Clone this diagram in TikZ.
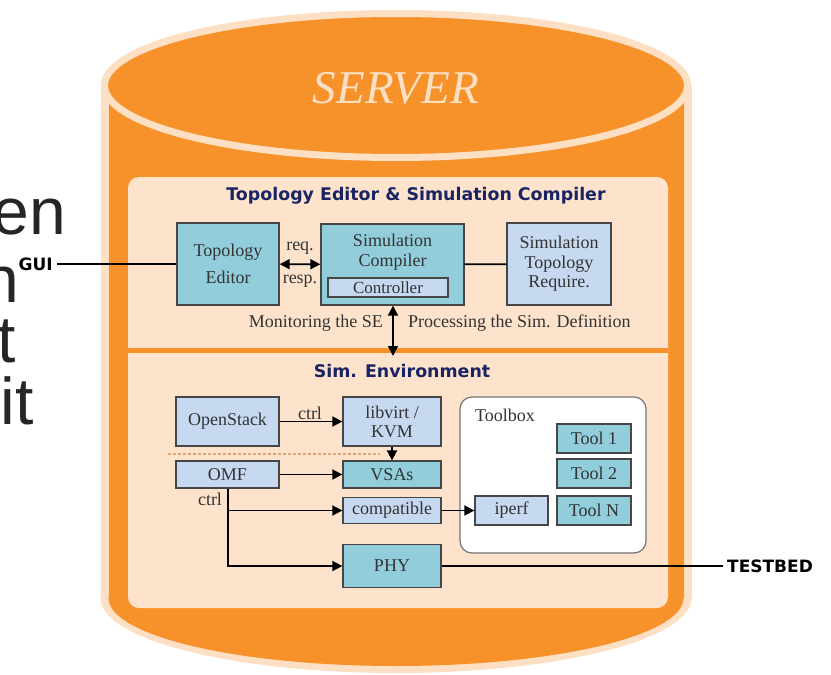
\documentclass[tikz,border=0pt]{standalone}
\usepackage{fontspec}
\setmainfont{Liberation Serif}
\newfontfamily\dejavu{DejaVu Sans}
\newfontfamily\arialfam{Liberation Sans}
\usetikzlibrary{arrows.meta}
\definecolor{cylorange}{RGB}{247,146,43}
\definecolor{cyllight}{RGB}{253,224,196}
\definecolor{panelpeach}{RGB}{253,227,203}
\definecolor{tealbox}{RGB}{146,205,220}
\definecolor{lightbl}{RGB}{198,217,241}
\definecolor{titlenavy}{RGB}{26,36,100}
\definecolor{boxborder}{RGB}{70,70,70}
\definecolor{dashcol}{RGB}{222,165,115}
\definecolor{bigtext}{RGB}{38,38,38}
\tikzset{
  boxstyle/.style={draw=boxborder, line width=1.3, inner sep=0pt, align=center,
    font=\fontsize{18}{20}\selectfont, text=black!80},
  tbox/.style={boxstyle, fill=tealbox},
  lbox/.style={boxstyle, fill=lightbl},
  arr/.style={-{Triangle[length=10pt,width=10pt]}, line width=1.8},
  darr/.style={{Triangle[length=10pt,width=10pt]}-{Triangle[length=10pt,width=10pt]}, line width=1.8},
  plainline/.style={line width=1.8},
  thinline/.style={line width=1.4},
  sanstitle/.style={font=\dejavu\bfseries\fontsize{17.4}{20}\selectfont, text=titlenavy},
  outlabel/.style={font=\dejavu\bfseries\fontsize{17}{20}\selectfont, text=black},
  serlabel/.style={font=\fontsize{18}{20}\selectfont, text=black!80, inner sep=0pt},
  bigword/.style={font=\arialfam\fontsize{66}{70}\selectfont, text=bigtext, inner sep=0pt, anchor=base east}
}
\begin{document}
\begin{tikzpicture}[x=1pt,y=-1pt]
\useasboundingbox (0,0) rectangle (831,675);
\clip (0,0) rectangle (831,675);
\fill[white] (0,0) rectangle (831,675);

% background slide text
\node[bigword] (w1) at (66,234) {en};
\node[bigword] (w2) at (19,302) {n};
\node[bigword] (w3) at (16,362) {t};
\node[bigword] (w4) at (34,424) {it};

% cylinder
\fill[cyllight] (100.5,85.5) rectangle (691.5,598);
\fill[cyllight] (396,598) ellipse (295.5 and 75);
\fill[cylorange] (108.5,85.5) rectangle (683.5,598);
\fill[cylorange] (396,598) ellipse (287.5 and 68);
\draw[cyllight, line width=7, fill=cylorange] (396,85.5) ellipse (291.5 and 72);
\node[font=\itshape\fontsize{47}{50}\selectfont, text=cyllight] (server) at (396,88) {SERVER};

% panels
\fill[panelpeach, rounded corners=11] (128,177) rectangle (668,608);
\fill[cylorange] (128,348) rectangle (668,353);

% top panel
\node[sanstitle] (t1title) at (416,196) {Topology Editor \& Simulation Compiler};
\node[tbox, minimum width=102, minimum height=82, font=\fontsize{18}{27}\selectfont] (te) at (228,264) {Topology\\Editor};
\node[tbox, minimum width=143, minimum height=81] (sc) at (392.5,264.5) {};
\node[serlabel, align=center, font=\fontsize{18}{19.5}\selectfont] (sctext) at (392.5,252) {Simulation\\Compiler};
\node[lbox, minimum width=120, minimum height=19, font=\fontsize{17}{19}\selectfont] (ctl) at (388,287.5) {Controller};
\node[lbox, minimum width=104, minimum height=82, font=\fontsize{18}{19.5}\selectfont] (str) at (559,264) {Simulation\\Topology\\Require.};

\node[outlabel, anchor=east, inner sep=0pt] (gui) at (53,264) {GUI};
\draw[thinline] ([xshift=4pt]gui.east) -- (te.west);
\draw[darr] (te) -- (sc);
\node[serlabel] (req) at (300,248) {req.};
\node[serlabel] (resp) at (300,281) {resp.};
\draw[plainline] (sc) -- (str);

\node[serlabel, anchor=east] (mon) at (383,323) {Monitoring the SE};
\node[serlabel, anchor=west] (proc) at (408,323) {Processing the Sim. Definition};
\coordinate (envtop) at (393,356);
\draw[darr] (sc.south -| envtop) -- (envtop);

% bottom panel
\node[sanstitle] (t2title) at (402,371) {Sim. Environment};

\node[lbox, minimum width=103, minimum height=49] (os) at (227.5,421.5) {OpenStack};
\node[lbox, minimum width=98, minimum height=49, font=\fontsize{18}{19}\selectfont] (lv) at (392,421.5) {libvirt /\\KVM};
\node[lbox, minimum width=103, minimum height=27] (omf) at (227.5,474.5) {OMF};
\node[tbox, minimum width=98, minimum height=27] (vsa) at (392,474.5) {VSAs};
\node[lbox, minimum width=98, minimum height=26] (comp) at (392,510.5) {compatible};
\node[tbox, minimum width=98, minimum height=43] (phy) at (392,566) {PHY};

\node[draw=black!55, line width=1.2, fill=white, rounded corners=12, minimum width=186, minimum height=156, inner sep=0pt] (tb) at (553,475) {};
\node[serlabel, anchor=west] (tblabel) at (475,415) {Toolbox};
\node[lbox, minimum width=73, minimum height=29] (iperf) at (511.5,510.5) {iperf};
\node[tbox, minimum width=74, minimum height=29] (tool1) at (594,438.5) {Tool 1};
\node[tbox, minimum width=74, minimum height=29] (tool2) at (594,473.5) {Tool 2};
\node[tbox, minimum width=74, minimum height=29] (toolN) at (594,510.5) {Tool N};

\draw[arr] (os) -- (lv);
\node[serlabel] (ctrl1) at (310,413) {ctrl};
\coordinate (dl) at (168,454);
\coordinate (dr) at (380,454);
\draw[dashcol, line width=1.5, dash pattern=on 3pt off 2pt] (dl) -- (dr);
\draw[arr] (lv) -- (vsa);
\draw[arr] (omf) -- (vsa);
\coordinate (br) at (228,500);
\node[serlabel] (ctrl2) at (210,499) {ctrl};
\draw[arr] (omf.south -| br) |- (comp.west);
\draw[arr] (omf.south -| br) |- (phy.west);
\draw[arr] (comp) -- (iperf);

\node[outlabel, anchor=west, inner sep=0pt] (testbed) at (727,566) {TESTBED};
\draw[thinline] (phy.east) -- ([xshift=-4pt]testbed.west);
\end{tikzpicture}
\end{document}
